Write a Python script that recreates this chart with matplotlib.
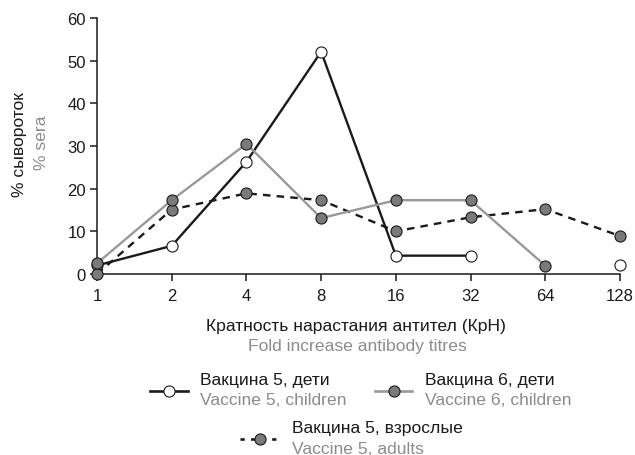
import matplotlib.pyplot as plt
import numpy as np
from matplotlib.lines import Line2D

plt.rcParams['font.family'] = ['Liberation Sans', 'DejaVu Sans']

# data
titres = ['1', '2', '4', '8', '16', '32', '64', '128']
v5_children = [2.0, 6.6, 26.3, 52.1, 4.3, 4.3, np.nan, 2.1]
v6_children = [2.5, 17.3, 30.5, 13.1, 17.3, 17.3, 1.95, np.nan]
v5_adults = [0.0, 15.1, 18.9, 17.3, 10.0, 13.3, 15.2, 8.9]

dark = '#1a1a1a'
grey_line = '#999999'
grey_fill = '#7a7a7a'
grey_text = '#8c8c8c'
fs = 12.6

fig = plt.figure(figsize=(6.35, 4.56), dpi=100)
ax = fig.add_axes([97 / 635, 181 / 456, 523 / 635, 256 / 456])

x = np.arange(len(titres))
ax.plot(x, v5_adults, color=dark, lw=1.7, dashes=(3.2, 2.6), marker='o', ms=8,
        mfc=grey_fill, mec=dark, mew=0.8, clip_on=False, zorder=3)
ax.plot(x, v6_children, color=grey_line, lw=1.7, marker='o', ms=8,
        mfc=grey_fill, mec=dark, mew=0.8, clip_on=False, zorder=4)
ax.plot(x, v5_children, color=dark, lw=1.7, marker='o', ms=8,
        mfc='white', mec=dark, mew=0.8, clip_on=False, zorder=2)

ax.set_xlim(0, 7)
ax.set_ylim(0, 60)
ax.set_xticks(x)
ax.set_xticklabels(titres)
ax.set_yticks(range(0, 61, 10))
for s in ['top', 'right']:
    ax.spines[s].set_visible(False)
for s in ['left', 'bottom']:
    ax.spines[s].set_linewidth(1.1)
    ax.spines[s].set_color(dark)
ax.tick_params(axis='both', labelsize=12, colors=dark, width=1.1, length=5)
ax.tick_params(axis='x', pad=5)
ax.tick_params(axis='y', pad=3)

# axis titles (two-language)
fig.text(20 / 635, 1 - 145 / 456, '% сывороток', rotation=90, ha='center', va='center',
         fontsize=fs, color=dark)
fig.text(42 / 635, 1 - 143 / 456, '% sera', rotation=90, ha='center', va='center',
         fontsize=fs, color=grey_text)
fig.text(356 / 635, 1 - 326 / 456, 'Кратность нарастания антител (КрН)', ha='center', va='center',
         fontsize=fs, color=dark)
fig.text(357 / 635, 1 - 346 / 456, 'Fold increase antibody titres', ha='center', va='center',
         fontsize=fs, color=grey_text)

# legend
def handle(x0, x1, y, color, fill, dashed=False):
    yy = 1 - y / 456
    xs = [x0 / 635, x1 / 635]
    kw = dict(transform=fig.transFigure, color=color, lw=1.9)
    if dashed:
        kw['dashes'] = (1.6, 2.4)
    fig.add_artist(Line2D(xs, [yy, yy], **kw))
    fig.add_artist(Line2D([(x0 + x1) / 2 / 635], [yy], transform=fig.transFigure, ls='none',
                          marker='o', ms=8, mfc=fill, mec=dark, mew=0.8))

def label(x0, y, ru, en):
    fig.text(x0 / 635, 1 - y / 456, ru, ha='left', va='center', fontsize=fs, color=dark)
    fig.text(x0 / 635, 1 - (y + 21) / 456, en, ha='left', va='center', fontsize=fs, color=grey_text)

handle(150, 188, 392, dark, 'white')
label(200, 380, 'Вакцина 5, дети', 'Vaccine 5, children')
handle(375, 412, 392, grey_line, grey_fill)
label(425, 380, 'Вакцина 6, дети', 'Vaccine 6, children')
handle(240, 279, 440, dark, grey_fill, dashed=True)
label(292, 429, 'Вакцина 5, взрослые', 'Vaccine 5, adults')

fig.savefig('out.png', dpi=100)
